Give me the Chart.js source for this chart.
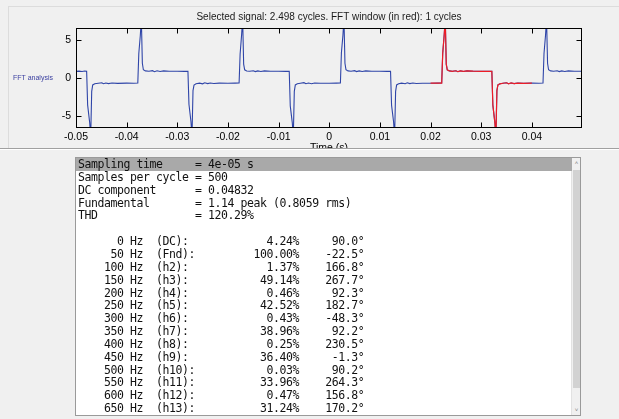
<!DOCTYPE html>
<html>
<head>
<meta charset="utf-8">
<script src="https://cdn.jsdelivr.net/npm/chart.js@4.4.1/dist/chart.umd.min.js"></script>
<style>
  body { margin: 0; width: 619px; height: 419px; background: #f0f0f0; position: relative; overflow: hidden;
         font-family: "Liberation Sans", Arial, sans-serif; }
  #plotPanel { position: absolute; left: 0; top: 0; width: 619px; height: 148px; overflow: hidden; }
  #plotPanel canvas { position: absolute; left: 0; top: 0; }
  #panelEdge { position: absolute; left: 8px; top: 6px; width: 611px; height: 142px;
               border-left: 1px solid #dcdcdc; border-top: 1px solid #dcdcdc; box-sizing: border-box; }
  #divider { position: absolute; left: 0; top: 148px; width: 619px; height: 1px; background: #a0a0a0;
             border-bottom: 1px solid #ffffff; }
  #fftLabel { position: absolute; left: 13px; top: 74px; font-size: 7px; color: #3c40a0; }
  #listBox { position: absolute; left: 75px; top: 157px; width: 504px; height: 257px;
             border: 1px solid #9a9a9a; background: #fff; overflow: hidden; }
  .row { position: absolute; left: 0; width: 494px; height: 12.85px; padding-left: 2px; white-space: pre;
         font-family: "DejaVu Sans Mono", monospace; font-size: 11.5px; letter-spacing: -0.42px;
         line-height: 12.85px; color: #111; }
  .row.sel { background: #a9a9a9; }
  #scroll { position: absolute; right: 0; top: 0; width: 8px; height: 257px; background: #f0f0f0;
            border-left: 1px solid #e2e2e2; }
  #thumb { position: absolute; left: 1px; top: 12px; width: 7px; height: 218px; background: #d2d2d2; }
  .arrow { position: absolute; left: 1px; width: 7px; text-align: center; font-size: 6px; color: #7a7a7a; line-height: 8px; }
</style>
</head>
<body>
<div id="plotPanel"><canvas id="plot" width="619" height="162"></canvas></div>
<div id="panelEdge"></div>
<div id="divider"></div>
<div id="fftLabel">FFT analysis</div>
<div id="listBox">
  <div id="scroll">
    <div class="arrow" style="top:1px">&#x2C4;</div>
    <div id="thumb"></div>
    <div class="arrow" style="bottom:1px">&#x2C5;</div>
  </div>
</div>
<script>
const titleText = 'Selected signal: 2.498 cycles. FFT window (in red): 1 cycles'
const xTicks = [-0.05, -0.04, -0.03, -0.02, -0.01, 0, 0.01, 0.02, 0.03, 0.04]
const xTickLabels = ['-0.05', '-0.04', '-0.03', '-0.02', '-0.01', '0', '0.01', '0.02', '0.03', '0.04']
const yTicks = [-5, 0, 5]
const yTickLabels = ['-5', '0', '5']
const fftWindow = [0.02, 0.04]

// [time (s), signal]
const signal = [
  [-0.0500, 0.84], [-0.0494, 0.87], [-0.0488, 0.83], [-0.0483, 0.88],
  [-0.0479, 0.85], [-0.0477, -3.6], [-0.0473, -5.9], [-0.0471, -7.8], [-0.0469, -1.8], [-0.0467, -0.95], [-0.0463, -0.80],
  [-0.0456, -0.72], [-0.0449, -0.66], [-0.0446, -0.79], [-0.0441, -0.69], [-0.0436, -0.77], [-0.0429, -0.70], [-0.0418, -0.74], [-0.0400, -0.71], [-0.0386, -0.72],
  [-0.0378, -0.70], [-0.0376, 3.2], [-0.0373, 5.6], [-0.0371, 7.8], [-0.0369, 1.9], [-0.0367, 1.05], [-0.0363, 0.90],
  [-0.0356, 0.86], [-0.0349, 0.93], [-0.0345, 0.80], [-0.0340, 0.91], [-0.0334, 0.82], [-0.0327, 0.90], [-0.0316, 0.85], [-0.0300, 0.86], [-0.0286, 0.84],
  [-0.0279, 0.85], [-0.0277, -3.5], [-0.0273, -5.8], [-0.0271, -7.8], [-0.0269, -1.7], [-0.0267, -0.96], [-0.0263, -0.79],
  [-0.0256, -0.71], [-0.0250, -0.80], [-0.0246, -0.67], [-0.0240, -0.77], [-0.0235, -0.70], [-0.0228, -0.76], [-0.0217, -0.71], [-0.0200, -0.73], [-0.0186, -0.71],
  [-0.0178, -0.70], [-0.0176, 3.1], [-0.0173, 5.7], [-0.0171, 7.8], [-0.0169, 1.8], [-0.0167, 1.04], [-0.0163, 0.89],
  [-0.0157, 0.85], [-0.0150, 0.92], [-0.0146, 0.81], [-0.0141, 0.90], [-0.0135, 0.83], [-0.0128, 0.91], [-0.0116, 0.85], [-0.0100, 0.86], [-0.0086, 0.84],
  [-0.0079, 0.85], [-0.0077, -3.7], [-0.0073, -5.9], [-0.0071, -7.8], [-0.0069, -1.8], [-0.0067, -0.94], [-0.0063, -0.80],
  [-0.0057, -0.72], [-0.0050, -0.65], [-0.0046, -0.79], [-0.0041, -0.70], [-0.0035, -0.78], [-0.0029, -0.69], [-0.0018, -0.73], [0.0000, -0.72], [0.0014, -0.71],
  [0.0022, -0.70], [0.0024, 3.3], [0.0027, 5.6], [0.0029, 7.8], [0.0031, 1.9], [0.0033, 1.06], [0.0037, 0.90],
  [0.0043, 0.86], [0.0050, 0.93], [0.0054, 0.81], [0.0059, 0.90], [0.0065, 0.82], [0.0072, 0.91], [0.0084, 0.85], [0.0100, 0.85], [0.0114, 0.84],
  [0.0121, 0.85], [0.0123, -3.6], [0.0127, -5.8], [0.0129, -7.8], [0.0131, -1.8], [0.0133, -0.95], [0.0137, -0.80],
  [0.0143, -0.71], [0.0150, -0.79], [0.0154, -0.66], [0.0159, -0.77], [0.0165, -0.70], [0.0172, -0.76], [0.0184, -0.72], [0.0200, -0.72], [0.0214, -0.71],
  [0.0222, -0.70], [0.0224, 3.2], [0.0227, 5.7], [0.0229, 7.8], [0.0231, 1.8], [0.0233, 1.05], [0.0237, 0.90],
  [0.0243, 0.85], [0.0250, 0.92], [0.0254, 0.80], [0.0259, 0.91], [0.0265, 0.83], [0.0272, 0.90], [0.0284, 0.86], [0.0300, 0.85], [0.0314, 0.84],
  [0.0321, 0.85], [0.0323, -3.6], [0.0327, -5.9], [0.0329, -7.8], [0.0331, -1.7], [0.0333, -0.95], [0.0337, -0.80],
  [0.0343, -0.72], [0.0350, -0.66], [0.0354, -0.79], [0.0359, -0.69], [0.0365, -0.77], [0.0372, -0.70], [0.0384, -0.73], [0.0400, -0.71], [0.0414, -0.72],
  [0.0422, -0.70], [0.0424, 3.2], [0.0427, 5.6], [0.0429, 7.8], [0.0431, 1.9], [0.0433, 1.05], [0.0437, 0.90],
  [0.0443, 0.86], [0.0450, 0.92], [0.0454, 0.81], [0.0459, 0.90], [0.0465, 0.83], [0.0472, 0.90], [0.0484, 0.85], [0.0499, 0.85]
]

const summaryLabels = ['Sampling time', 'Samples per cycle', 'DC component', 'Fundamental', 'THD']
const summaryValues = ['4e-05 s', '500', '0.04832', '1.14 peak (0.8059 rms)', '120.29%']

const harmFreq = [0, 50, 100, 150, 200, 250, 300, 350, 400, 450, 500, 550, 600, 650]
const harmName = ['DC', 'Fnd', 'h2', 'h3', 'h4', 'h5', 'h6', 'h7', 'h8', 'h9', 'h10', 'h11', 'h12', 'h13']
const harmMag = ['4.24', '100.00', '1.37', '49.14', '0.46', '42.52', '0.43', '38.96', '0.25', '36.40', '0.03', '33.96', '0.47', '31.24']
const harmPhase = ['90.0', '-22.5', '166.8', '267.7', '92.3', '182.7', '-48.3', '92.2', '230.5', '-1.3', '90.2', '264.3', '156.8', '170.2']

const allPts = signal.map(p => ({ x: p[0], y: p[1] }))
const windowPts = allPts.filter(p => p.x >= fftWindow[0] && p.x <= fftWindow[1])

// matlab style box with inward ticks
const boxPlugin = {
  id: 'box',
  afterDatasetsDraw(chart) {
    const { ctx, chartArea: a, scales } = chart
    const l = Math.round(a.left) + 0.5, r = Math.round(a.right) - 0.5
    const t = Math.round(a.top) + 0.5, b = Math.round(a.bottom) - 0.5
    ctx.save()
    ctx.strokeStyle = '#000'
    ctx.lineWidth = 1
    ctx.strokeRect(l, t, r - l, b - t)
    ctx.beginPath()
    xTicks.forEach(v => {
      const px = Math.round(scales.x.getPixelForValue(v)) + 0.5
      ctx.moveTo(px, b); ctx.lineTo(px, b - 5)
      ctx.moveTo(px, t); ctx.lineTo(px, t + 5)
    })
    yTicks.forEach(v => {
      const py = Math.round(scales.y.getPixelForValue(v)) + 0.5
      ctx.moveTo(l, py); ctx.lineTo(l + 5, py)
      ctx.moveTo(r, py); ctx.lineTo(r - 5, py)
    })
    ctx.stroke()
    ctx.restore()
  }
}

Chart.defaults.font.family = '"Liberation Sans", Arial, sans-serif'

new Chart(document.getElementById('plot'), {
  type: 'line',
  data: {
    datasets: [
      { label: 'FFT window', data: windowPts, borderColor: '#ee1c25', borderWidth: 1.2, pointRadius: 0, order: 0 },
      { label: 'Selected signal', data: allPts, borderColor: '#2f45a8', borderWidth: 1.1, pointRadius: 0, order: 1 },
    ],
  },
  options: {
    responsive: false,
    animation: false,
    devicePixelRatio: 1,
    layout: { padding: { left: 0, right: 37, top: 0, bottom: 0 } },
    plugins: {
      legend: { display: false },
      tooltip: { enabled: false },
      title: {
        display: true, text: titleText, fullSize: false, color: '#1a1a1a',
        font: { size: 10, weight: 'normal' }, padding: { top: 11, bottom: 5 },
      },
    },
    scales: {
      x: {
        type: 'linear', min: -0.05, max: 0.0499,
        grid: { display: false, drawTicks: false }, border: { display: false },
        afterBuildTicks: s => { s.ticks = xTicks.map(v => ({ value: v })) },
        afterFit: s => { s.height = 34.5 },
        ticks: { callback: (v, i) => xTickLabels[i], color: '#000', font: { size: 10.5 }, padding: 3, maxRotation: 0, autoSkip: false },
        title: { display: true, text: 'Time (s)', color: '#000', font: { size: 10.5 }, padding: { top: 0, bottom: 8 } },
      },
      y: {
        type: 'linear', min: -6.55, max: 6.55,
        grid: { display: false, drawTicks: false }, border: { display: false },
        afterBuildTicks: s => { s.ticks = yTicks.map(v => ({ value: v })) },
        afterFit: s => { s.width = 76 },
        ticks: { callback: (v, i) => yTickLabels[i], color: '#000', font: { size: 10.5 }, padding: 5, autoSkip: false },
      },
    },
  },
  plugins: [boxPlugin],
})

// text list below the plot
const lines = summaryLabels.map((lab, i) => lab.padEnd(18) + '= ' + summaryValues[i])
lines.push('')
harmFreq.forEach((f, i) => {
  const left = String(f).padStart(7) + ' Hz  ' + '(' + harmName[i] + '):'
  lines.push(left.padEnd(27) + (harmMag[i] + '%').padStart(7) + (harmPhase[i] + '\u00b0').padStart(10))
})
const box = document.getElementById('listBox')
lines.forEach((txt, i) => {
  const d = document.createElement('div')
  d.className = i === 0 ? 'row sel' : 'row'
  d.style.top = (i * 12.85) + 'px'
  d.textContent = txt
  box.appendChild(d)
})
</script>
</body>
</html>
